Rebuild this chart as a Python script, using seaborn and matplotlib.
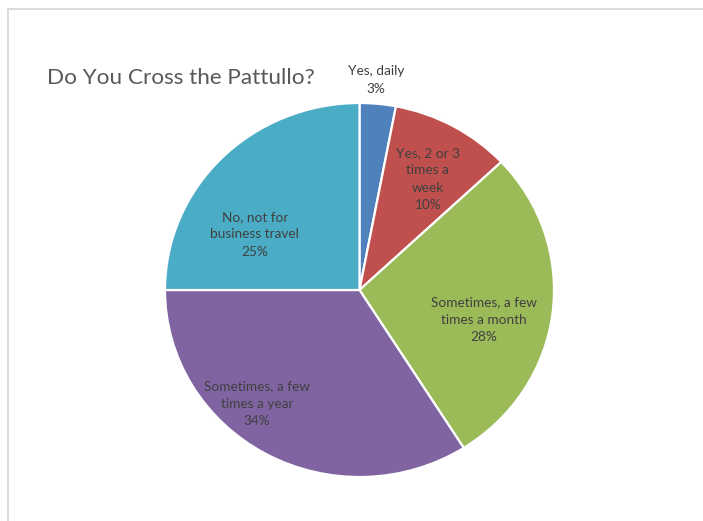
import matplotlib
matplotlib.use("Agg")
import matplotlib.pyplot as plt
from matplotlib.patches import Rectangle
import numpy as np
import seaborn as sns

# Survey answers and their shares (percent)
answers = [
    "Yes, daily",
    "Yes, 2 or 3\ntimes a\nweek",
    "Sometimes, a few\ntimes a month",
    "Sometimes, a few\ntimes a year",
    "No, not for\nbusiness travel",
]
shares = [3, 10, 28, 34, 25]
title = "Do You Cross the Pattullo?"

colors = sns.color_palette(["#4F81BD", "#C0504D", "#9BBB59", "#8064A2", "#4BACC6"])

# label anchor: (angle offset from slice middle in degrees, radius fraction)
label_place = [(-1.1, 1.125), (1.8, 0.69), (6.8, 0.66), (12.2, 0.805), (-16.0, 0.615)]

sns.set_theme(style="white")
plt.rcParams["font.family"] = ["Lato", "DejaVu Sans"]

W, H = 703, 521
fig = plt.figure(figsize=(W / 100, H / 100), dpi=100)
fig.patch.set_facecolor("white")

# chart frame
fig.patches.append(Rectangle((8 / W, -0.1), 1.2, 1 - 9 / H + 0.1,
                             transform=fig.transFigure, fill=False,
                             edgecolor="#D9D9D9", linewidth=1.3))

left, right, top, bottom = 165, 554, 103, 477
ax = fig.add_axes([left / W, 1 - bottom / H, (right - left) / W, (bottom - top) / H])
wedges, _ = ax.pie(shares, colors=colors, startangle=90, counterclock=False,
                   radius=1.0, wedgeprops=dict(edgecolor="white", linewidth=1.6))
ax.set_aspect("auto")
ax.set_xlim(-1, 1)
ax.set_ylim(-1, 1)
ax.axis("off")

total = sum(shares)
start = 0.0
for ans, val, (doff, rad) in zip(answers, shares, label_place):
    mid = start + val / total * 360 / 2
    start += val / total * 360
    theta = np.deg2rad(90 - (mid + doff))
    ax.text(rad * np.cos(theta), rad * np.sin(theta), f"{ans}\n{val}%",
            ha="center", va="center", fontsize=9.8, color="#404040",
            linespacing=1.55, clip_on=False)

fig.text(47 / W, 1 - 78 / H, title, ha="left", va="center",
         fontsize=16.2, color="#595959")

fig.savefig("out.png", dpi=100, facecolor="white")
